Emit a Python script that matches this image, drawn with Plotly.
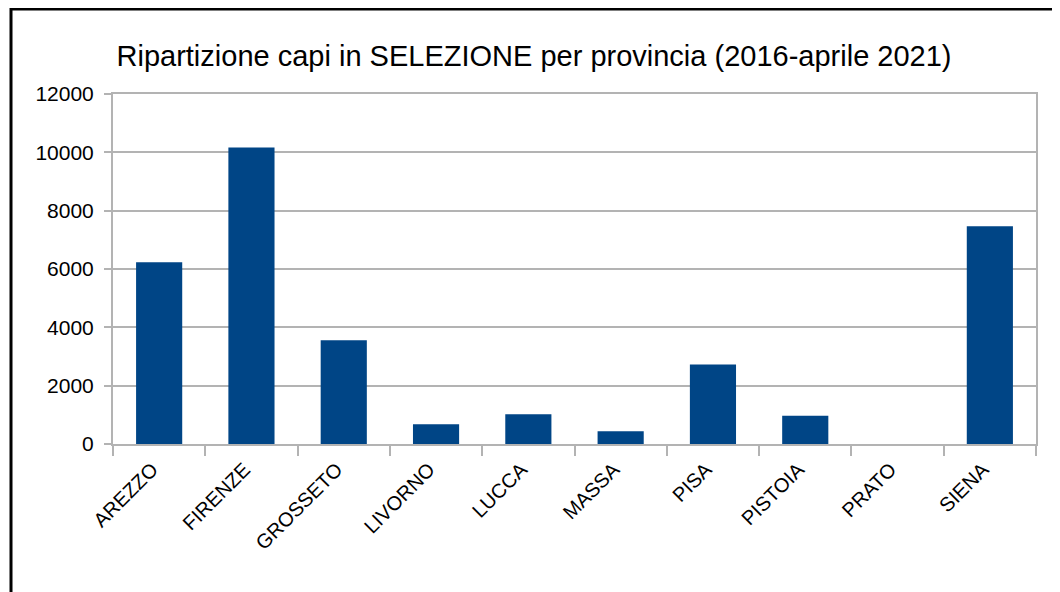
import plotly.graph_objects as go

categories = ["AREZZO", "FIRENZE", "GROSSETO", "LIVORNO", "LUCCA",
              "MASSA", "PISA", "PISTOIA", "PRATO", "SIENA"]
values = [6230, 10170, 3560, 680, 1020, 440, 2730, 970, 0, 7470]
y_ticks = [0, 2000, 4000, 6000, 8000, 10000, 12000]

title_text = "Ripartizione capi in SELEZIONE per provincia (2016-aprile 2021)"

OFF = 8  # page body margin
W, H = 1060, 592
L, R, T, B = 113 - OFF, 1036 - OFF, 94 - OFF, 444 - OFF  # plot area in figure pixels

fig = go.Figure(go.Bar(
    x=categories, y=values,
    marker=dict(color="#004586", line=dict(width=0)),
    width=0.5,
))

def fx(p):  # figure pixel -> paper x
    return (p - L) / (R - L)

def fy(p):  # figure pixel -> paper y
    return (B - p) / (B - T)

fig.update_layout(
    width=W, height=H,
    margin=dict(l=L, r=W - R, t=T, b=H - B, pad=0),
    paper_bgcolor="white", plot_bgcolor="white",
    font=dict(family="Liberation Sans, Arial, sans-serif", size=20, color="#000000"),
    title=dict(text=title_text, x=(534 - OFF) / W, xref="container",
               xanchor="center", y=1 - (56 - OFF) / H, yref="container", yanchor="middle",
               font=dict(size=29, color="#000000")),
    showlegend=False,
    bargap=0.5,
    xaxis=dict(
        type="category", tickangle=-45, showline=True, linecolor="#b3b3b3", linewidth=2,
        mirror=True, ticks="outside", tickson="boundaries", ticklen=10,
        tickcolor="#b3b3b3", tickwidth=2, showgrid=False,
        tickfont=dict(size=20), ticklabelshift=-7, ticklabelstandoff=4,
    ),
    yaxis=dict(
        range=[0, 12000], tickvals=y_ticks, ticktext=[str(v) for v in y_ticks],
        showline=True, linecolor="#b3b3b3", linewidth=2, mirror=True,
        ticks="outside", ticklen=7, tickcolor="#b3b3b3", tickwidth=2,
        showgrid=True, gridcolor="#b3b3b3", gridwidth=2, zeroline=False,
        ticklabelstandoff=6, tickfont=dict(size=21),
    ),
    shapes=[dict(type="rect", xref="paper", yref="paper",
                 x0=fx(3), x1=fx(1048), y0=fy(620), y1=fy(1),
                 line=dict(color="#000000", width=3), fillcolor="rgba(0,0,0,0)",
                 layer="above")],
)

fig.write_html("out.html")
